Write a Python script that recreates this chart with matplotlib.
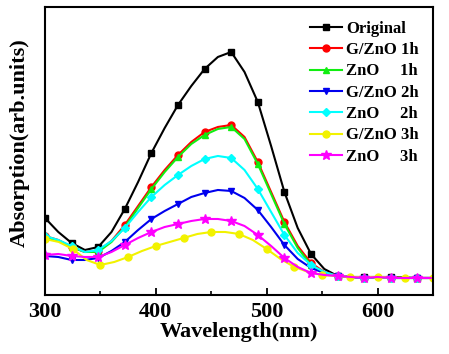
import numpy as np
import matplotlib
matplotlib.use('Agg')
import matplotlib.pyplot as plt
from matplotlib.ticker import MultipleLocator

# %% data (arb. units)
wl = np.arange(300, 649, 12)          # main sampling grid, markers every 24 nm
wl_y = np.arange(300, 651, 12.5)      # G/ZnO 3h grid, markers every 25 nm

original = [0.77, 0.63, 0.52, 0.45, 0.48, 0.63, 0.86, 1.13, 1.42, 1.67, 1.90, 2.09, 2.26, 2.38, 2.43,
            2.23, 1.93, 1.49, 1.03, 0.67, 0.41, 0.26, 0.19, 0.18, 0.18, 0.18, 0.18, 0.175, 0.17, 0.17]
gzno_1h = [0.59, 0.55, 0.48, 0.43, 0.44, 0.54, 0.70, 0.89, 1.08, 1.25, 1.40, 1.53, 1.63, 1.68, 1.70,
           1.58, 1.33, 1.03, 0.73, 0.49, 0.32, 0.23, 0.19, 0.18, 0.17, 0.18, 0.17, 0.17, 0.17, 0.17]
zno_1h = [0.58, 0.54, 0.48, 0.43, 0.43, 0.53, 0.68, 0.87, 1.06, 1.23, 1.38, 1.51, 1.60, 1.66, 1.68,
          1.56, 1.31, 1.01, 0.71, 0.47, 0.30, 0.22, 0.19, 0.18, 0.17, 0.18, 0.17, 0.17, 0.17, 0.17]
gzno_2h = [0.39, 0.38, 0.35, 0.35, 0.37, 0.44, 0.53, 0.65, 0.76, 0.84, 0.91, 0.98, 1.02, 1.05, 1.04,
           0.97, 0.85, 0.68, 0.50, 0.36, 0.27, 0.22, 0.19, 0.18, 0.17, 0.18, 0.17, 0.17, 0.17, 0.17]
zno_2h = [0.59, 0.55, 0.49, 0.43, 0.45, 0.54, 0.67, 0.83, 0.98, 1.10, 1.20, 1.29, 1.36, 1.39, 1.37,
          1.25, 1.06, 0.83, 0.60, 0.42, 0.30, 0.23, 0.19, 0.18, 0.17, 0.18, 0.17, 0.17, 0.17, 0.17]
gzno_3h = [0.56, 0.53, 0.46, 0.35, 0.30, 0.33, 0.38, 0.44, 0.49, 0.53, 0.57, 0.61, 0.63, 0.63, 0.61,
           0.55, 0.46, 0.36, 0.28, 0.23, 0.20, 0.19, 0.18, 0.18, 0.18, 0.175, 0.17, 0.17, 0.17]
zno_3h = [0.40, 0.41, 0.39, 0.38, 0.38, 0.43, 0.50, 0.57, 0.63, 0.68, 0.71, 0.74, 0.76, 0.76, 0.74,
          0.69, 0.60, 0.49, 0.37, 0.28, 0.22, 0.20, 0.19, 0.18, 0.17, 0.18, 0.17, 0.17, 0.17, 0.17]

labels = ['Original', 'G/ZnO 1h', 'ZnO     1h', 'G/ZnO 2h', 'ZnO     2h', 'G/ZnO 3h', 'ZnO     3h']

# %% plot
plt.rcParams['font.family'] = ['Liberation Serif', 'DejaVu Serif']
plt.rcParams['font.weight'] = 'bold'

fig = plt.figure(figsize=(4.49, 3.54), dpi=100)
ax = fig.add_axes([0.1002, 0.1667, 0.864, 0.8136])

series = [(wl, original, 'black', 's'),
          (wl, gzno_1h, '#ff0000', 'o'),
          (wl, zno_1h, '#11ee11', '^'),
          (wl, gzno_2h, '#0000ee', 'v'),
          (wl, zno_2h, '#00ffff', 'D'),
          (wl_y, gzno_3h, '#f2f200', 'o'),
          (wl, zno_3h, '#ff00ff', '*')]
for (x, y, c, m), lab in zip(series, labels):
    ms = 7 if m == '*' else 5
    if m == 'D':
        ms = 4.5
    ax.plot(x, y, color=c, marker=m, markevery=2, ms=ms, lw=1.5, label=lab)

ax.set_xlim(300, 650)
ax.set_ylim(0, 2.88)
ax.xaxis.set_major_locator(MultipleLocator(100))
ax.xaxis.set_minor_locator(MultipleLocator(50))
ax.tick_params(axis='x', which='major', direction='in', length=5, width=1.3, labelsize=16, pad=5)
ax.tick_params(axis='x', which='minor', direction='in', length=3, width=1.2)
ax.set_yticks([])
for lbl in ax.get_xticklabels():
    lbl.set_fontweight('bold')
for sp in ax.spines.values():
    sp.set_linewidth(1.5)

ax.set_xlabel('Wavelength(nm)', fontsize=16, fontweight='bold', labelpad=0)
ax.set_ylabel('Absorption(arb.units)', fontsize=16, fontweight='bold')
ax.yaxis.set_label_coords(-0.04, 0.53)

ax.legend(loc='upper left', bbox_to_anchor=(0.683, 0.952), frameon=False, borderpad=0,
          borderaxespad=0, handlelength=1.9, handletextpad=0.25, labelspacing=0.32,
          prop={'size': 12, 'weight': 'bold'})

plt.savefig('out.png', dpi=100)
